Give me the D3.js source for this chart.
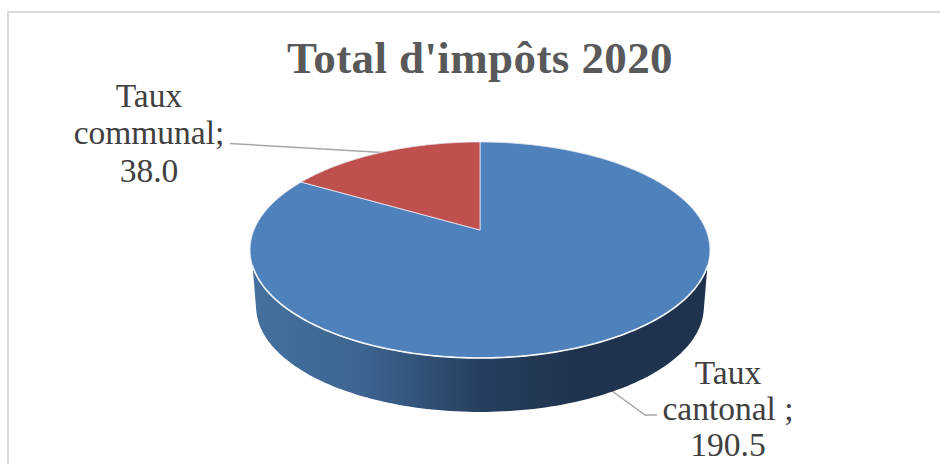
<!DOCTYPE html>
<html>
<head>
<meta charset="utf-8">
<script src="https://cdn.jsdelivr.net/npm/d3@7"></script>
<style>
  html, body { margin: 0; padding: 0; background: #fff; }
  svg { display: block; }
  text { font-family: "Liberation Serif", serif; }
</style>
</head>
<body>
<svg id="chart" width="940" height="464"></svg>
<script>
var categories = ["Taux cantonal ;", "Taux communal;"];
var values = [190.5, 38.0];
var sliceColors = ["#4f81bd", "#c0504d"];
var chartTitle = "Total d'impôts 2020";

var svg = d3.select("#chart");

//chart frame, only top and left are in the picture
svg.append("rect")
  .attr("x", 8).attr("y", 12)
  .attr("width", 960).attr("height", 480)
  .attr("fill", "#fff")
  .attr("stroke", "#d9d9d9")
  .attr("stroke-width", 2);

svg.append("text")
  .attr("x", 480).attr("y", 73)
  .attr("text-anchor", "middle")
  .attr("font-size", 45)
  .attr("font-weight", "bold")
  .attr("letter-spacing", 0.4)
  .attr("fill", "#595959")
  .text(chartTitle);

//the disc is a circle seen in perspective, k is the tilt
var k = 0.185;
function project(a, apexY, sx, sy) {
  var u = Math.sin(a), v = Math.cos(a), w = 1 + k * v;
  return [480 + sx * u / w, apexY - sy * v / w];
}
function topPoint(a) { return project(a, 230, 226, 104.3); }
function bottomPoint(a) { return project(a, 287.3, 220, 101.6); }
function rad(deg) { return deg * Math.PI / 180; }

var pie = d3.pie().sort(null)(values);
var line = d3.line();

function arcPoints(start, end, fn) {
  return d3.range(0, 121).map(function(i) {
    return fn(start + (end - start) * i / 120);
  });
}

//leader lines
var leaders = [
  [[612, 391], [645, 415], [657, 415]],
  [[230, 143.5], [383, 152.5]]
];
svg.selectAll(".leader")
  .data(leaders)
  .enter().append("path")
  .attr("class", "leader")
  .attr("d", line)
  .attr("fill", "none")
  .attr("stroke", "#a6a6a6")
  .attr("stroke-width", 1.5);

//side wall, horizontal shading from left to right
var grad = svg.append("defs").append("linearGradient")
  .attr("id", "wall")
  .attr("gradientUnits", "userSpaceOnUse")
  .attr("x1", 250).attr("x2", 710)
  .attr("y1", 0).attr("y2", 0);
[["0%", "#44719f"], ["25%", "#3c6490"], ["50%", "#263f5f"], ["72%", "#1f334e"], ["100%", "#1f334e"]]
  .forEach(function(s) {
    grad.append("stop").attr("offset", s[0]).attr("stop-color", s[1]);
  });

var rimPoints = arcPoints(rad(108.9), rad(251.1), topPoint);
var wallPoints = rimPoints.concat(arcPoints(rad(256.6), rad(103.4), bottomPoint));
svg.append("path")
  .attr("d", line(wallPoints) + "Z")
  .attr("fill", "url(#wall)");

//top face
svg.selectAll(".slice")
  .data(pie)
  .enter().append("path")
  .attr("class", "slice")
  .attr("d", function(d) {
    return line([[480, 230]].concat(arcPoints(d.startAngle, d.endAngle, topPoint))) + "Z";
  })
  .attr("fill", function(d, i) { return sliceColors[i]; })
  .attr("stroke", "#e4e9f1")
  .attr("stroke-width", 0.8)
  .attr("stroke-linejoin", "round");

//white rim on the front edge
svg.append("path")
  .attr("d", line(rimPoints))
  .attr("fill", "none")
  .attr("stroke", "#f2f5f9")
  .attr("stroke-width", 1.6);

//data labels
var labelLines = [
  ["Taux", "cantonal ;", values[0].toFixed(1)],
  ["Taux", "communal;", values[1].toFixed(1)]
];
var labelPos = [[728, 383.5, 36.4], [149, 107, 37.4]];
labelLines.forEach(function(rows, i) {
  svg.append("text")
    .attr("text-anchor", "middle")
    .attr("font-size", 33.5)
    .attr("fill", "#404040")
    .selectAll("tspan")
    .data(rows)
    .enter().append("tspan")
    .attr("x", labelPos[i][0])
    .attr("y", function(d, j) { return labelPos[i][1] + j * labelPos[i][2]; })
    .text(function(d) { return d; });
});
</script>
</body>
</html>
